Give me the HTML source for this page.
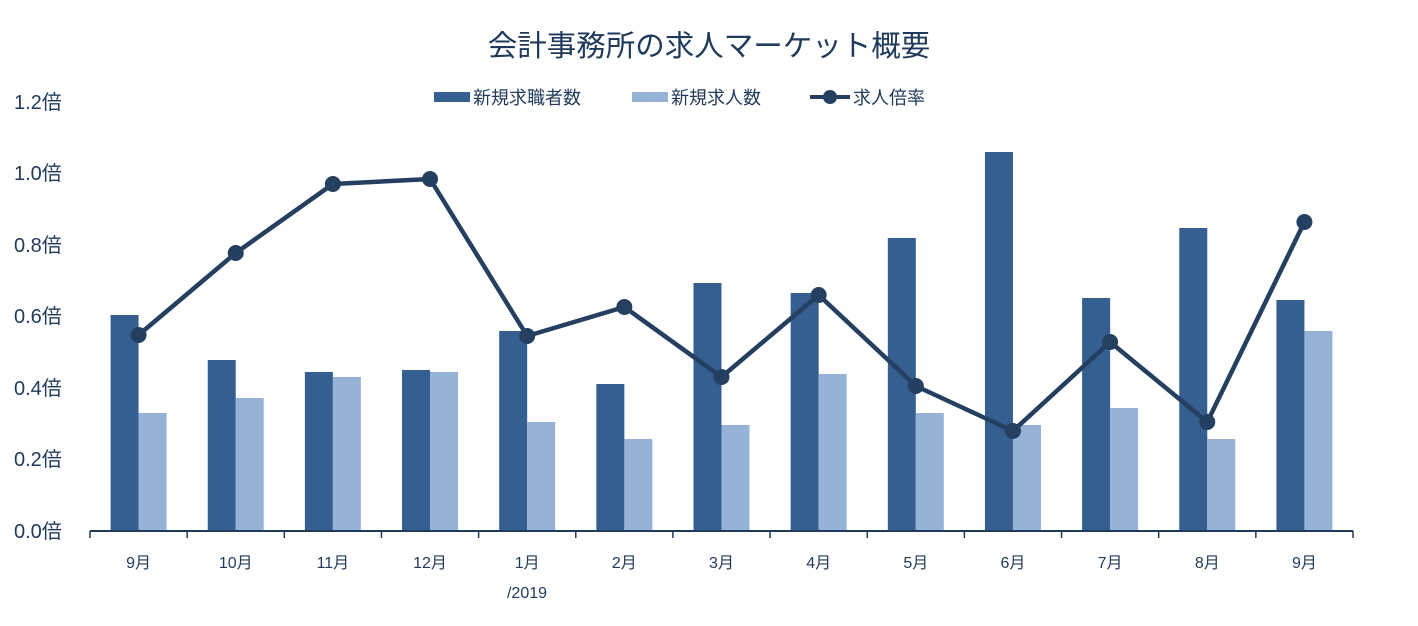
<!DOCTYPE html><html><head><meta charset="utf-8"><style>body{margin:0;background:#fff}</style></head><body>
<svg width="1418" height="621" xmlns="http://www.w3.org/2000/svg" font-family="Liberation Sans, Noto Sans CJK JP, sans-serif" fill="#1f3a5a">
<text x="709" y="56" font-size="29.5" text-anchor="middle">会計事務所の求人マーケット概要</text>
<rect x="434" y="92" width="36" height="10" fill="#355f91"/><text x="473" y="104" font-size="18">新規求職者数</text>
<rect x="632" y="92" width="36" height="10" fill="#95b3d7"/><text x="671" y="104" font-size="18">新規求人数</text>
<line x1="810" y1="97" x2="850" y2="97" stroke="#243f60" stroke-width="4"/><circle cx="830" cy="97" r="7" fill="#243f60"/><text x="853" y="104" font-size="18">求人倍率</text>
<g font-size="20" text-anchor="start">
<text x="14" y="109">1.2倍</text><text x="14" y="180">1.0倍</text><text x="14" y="252">0.8倍</text><text x="14" y="323">0.6倍</text><text x="14" y="395">0.4倍</text><text x="14" y="466">0.2倍</text><text x="14" y="538">0.0倍</text>
</g>
<g id="bars"></g>
<line x1="90" y1="531" x2="1353" y2="531" stroke="#1f3a5a" stroke-width="2"/>
<g id="ticks" stroke="#1f3a5a" stroke-width="1.5"></g>
<g id="labels" font-size="16" text-anchor="middle"></g>
<polyline id="ln" fill="none" stroke="#243f60" stroke-width="4.5" stroke-linejoin="round"/>
<g id="pts" fill="#243f60"></g>
<text x="527" y="598" font-size="16" text-anchor="middle">/2019</text>
</svg>
<script>
var d=[315,360,372,370,331,384,283,293,238,152,298,228,300],l=[413,398,377,372,422,439,425,374,413,425,408,439,331],p=[335,253,184,179,336,307,377,295,386,431,342,422,222],m=["9月","10月","11月","12月","1月","2月","3月","4月","5月","6月","7月","8月","9月"];
var w=(1353-90)/13,b="",t="",lb="",pt="",pts=[];
for(var i=0;i<13;i++){var c=90+w*(i+.5);
b+='<rect x="'+(c-28)+'" y="'+d[i]+'" width="28" height="'+(531-d[i])+'" fill="#355f91"/><rect x="'+c+'" y="'+l[i]+'" width="28" height="'+(531-l[i])+'" fill="#95b3d7"/>';
lb+='<text x="'+c+'" y="568">'+m[i]+'</text>';pts.push(c+','+p[i]);pt+='<circle cx="'+c+'" cy="'+p[i]+'" r="8"/>';}
for(var i=0;i<=13;i++){var x=90+w*i;t+='<line x1="'+x+'" y1="531" x2="'+x+'" y2="538"/>';}
document.getElementById('bars').innerHTML=b;document.getElementById('ticks').innerHTML=t;document.getElementById('labels').innerHTML=lb;document.getElementById('pts').innerHTML=pt;document.getElementById('ln').setAttribute('points',pts.join(' '));
</script>
</body></html>
